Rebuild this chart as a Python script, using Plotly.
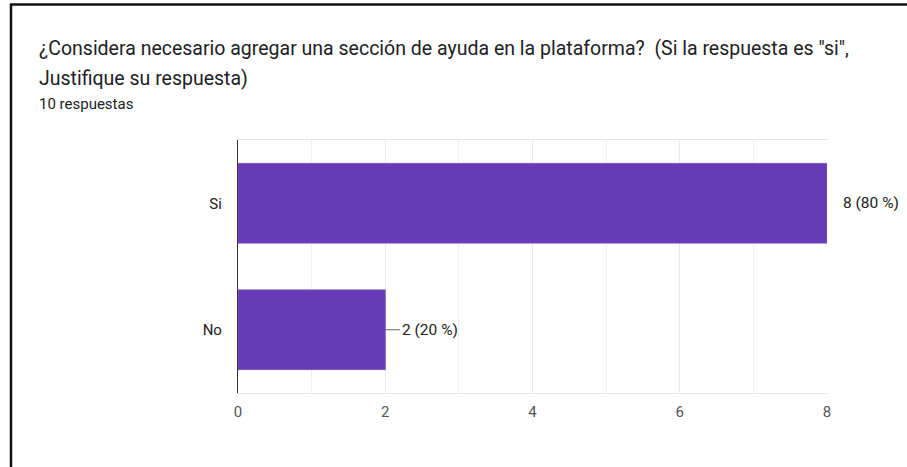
import plotly.graph_objects as go

categories = ["Si", "No"]
values = [8, 2]
labels = ["8 (80 %)", "2 (20 %)"]
x_ticks = [0, 2, 4, 6, 8]

title_line1 = '¿Considera necesario agregar una sección de ayuda en la plataforma?  (Si la respuesta es "si",'
title_line2 = 'Justifique su respuesta)'
subtitle = '10 respuestas'

W, H = 907, 467
L, R, T, B = 238, 80, 140, 74
pw, ph = W - L - R, H - T - B

def px(xp):
    return (xp - L) / pw

def py(yp):
    return (H - B - yp) / ph

FONT = "Roboto, Arial, sans-serif"

fig = go.Figure(go.Bar(
    x=values, y=categories, orientation="h",
    marker=dict(color="#673ab7", line=dict(color="#7e57c2", width=1)),
    width=0.63, hoverinfo="skip",
))

annotations = [
    dict(text=title_line1, x=px(37), y=py(48), xref="paper", yref="paper",
         xanchor="left", yanchor="middle", showarrow=False,
         font=dict(family=FONT, size=19.5, color="#202124")),
    dict(text=title_line2, x=px(37), y=py(78), xref="paper", yref="paper",
         xanchor="left", yanchor="middle", showarrow=False,
         font=dict(family=FONT, size=19.5, color="#202124")),
    dict(text=subtitle, x=px(37), y=py(104), xref="paper", yref="paper",
         xanchor="left", yanchor="middle", showarrow=False,
         font=dict(family=FONT, size=15, color="#202124")),
]
shapes = []
vmax = max(values)
for c, v, lab in zip(categories, values, labels):
    lead = 5 if v == vmax else 15
    gap = 14 if v == vmax else 15
    annotations.append(dict(text=lab, x=v, y=c, xref="x", yref="y",
                            xanchor="left", yanchor="middle", xshift=gap,
                            showarrow=False,
                            font=dict(family=FONT, size=15.5, color="#222222")))
    shapes.append(dict(type="line", xref="x", yref="y", xsizemode="pixel",
                       xanchor=v, x0=0, x1=lead, y0=c, y1=c,
                       line=dict(color="#666666", width=1)))

# outer frame (left and top edges)
shapes.append(dict(type="line", xref="paper", yref="paper",
                   x0=px(11), x1=px(11), y0=py(4), y1=py(H + 5),
                   line=dict(color="#111111", width=2.5)))
shapes.append(dict(type="line", xref="paper", yref="paper",
                   x0=px(10), x1=px(W + 5), y0=py(4.5), y1=py(4.5),
                   line=dict(color="#111111", width=2.5)))

fig.update_layout(
    width=W, height=H,
    margin=dict(l=L, r=R, t=T, b=B, autoexpand=False),
    paper_bgcolor="white", plot_bgcolor="white",
    showlegend=False,
    annotations=annotations, shapes=shapes,
    bargap=0.37,
    xaxis=dict(range=[0, 8], tickvals=x_ticks, showgrid=True, gridcolor="#ebebeb",
               minor=dict(dtick=1, showgrid=True, gridcolor="#f0f0f0"),
               zeroline=False, showline=True, linecolor="#e6e6e6", mirror=True,
               ticks="outside", ticklen=5, tickcolor="rgba(0,0,0,0)",
               tickfont=dict(family=FONT, size=15, color="#555555")),
    yaxis=dict(categoryorder="array", categoryarray=categories, autorange="reversed",
               showgrid=False, zeroline=False, showline=True, linecolor="#333333",
               linewidth=1.2, ticks="outside", ticklen=12, tickcolor="rgba(0,0,0,0)",
               tickfont=dict(family=FONT, size=15, color="#222222")),
)

fig.write_html("out.html")
